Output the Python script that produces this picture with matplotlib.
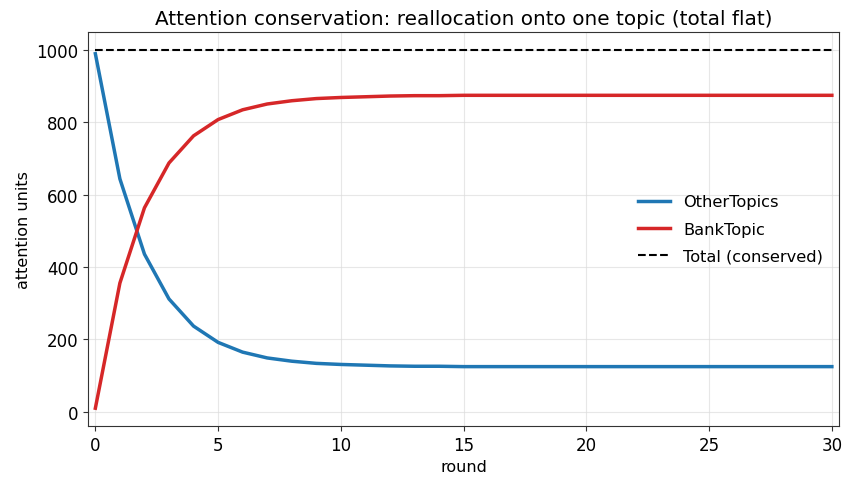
import matplotlib
matplotlib.use("Agg")
import matplotlib.pyplot as plt
import numpy as np

# rounds and attention values
rounds = list(range(31))
bank_topic = [10, 356, 564, 688, 763, 808, 835, 851, 860, 866, 869, 871, 873, 874, 874,
              875, 875, 875, 875, 875, 875, 875, 875, 875, 875, 875, 875, 875, 875, 875, 875]
other_topics = [990, 644, 436, 312, 237, 192, 165, 149, 140, 134, 131, 129, 127, 126, 126,
                125, 125, 125, 125, 125, 125, 125, 125, 125, 125, 125, 125, 125, 125, 125, 125]
total = [o + b for o, b in zip(other_topics, bank_topic)]

fig, ax = plt.subplots(figsize=(8.46, 4.81), dpi=100)

ax.plot(rounds, other_topics, color="#1f77b4", lw=2.5, label="OtherTopics")
ax.plot(rounds, bank_topic, color="#d62728", lw=2.5, label="BankTopic")
ax.plot(rounds, total, color="black", lw=1.5, ls="--", label="Total (conserved)")

ax.set_xlim(-0.3, 30.3)
ax.grid(True, color="#dddddd", lw=0.8, alpha=0.7)
ax.set_title("Attention conservation: reallocation onto one topic (total flat)", fontsize=14.4)
ax.set_xlabel("round", fontsize=11.5)
ax.set_ylabel("attention units", fontsize=11.5)
ax.tick_params(labelsize=12, color="#333333")
for s in ax.spines.values():
    s.set_color("#333333")
ax.legend(loc="center right", frameon=False, fontsize=11.7, labelspacing=0.75,
          borderaxespad=0.6)

plt.subplots_adjust(left=0.104, right=0.992, top=0.931, bottom=0.112)
plt.savefig("out.png", dpi=100)
